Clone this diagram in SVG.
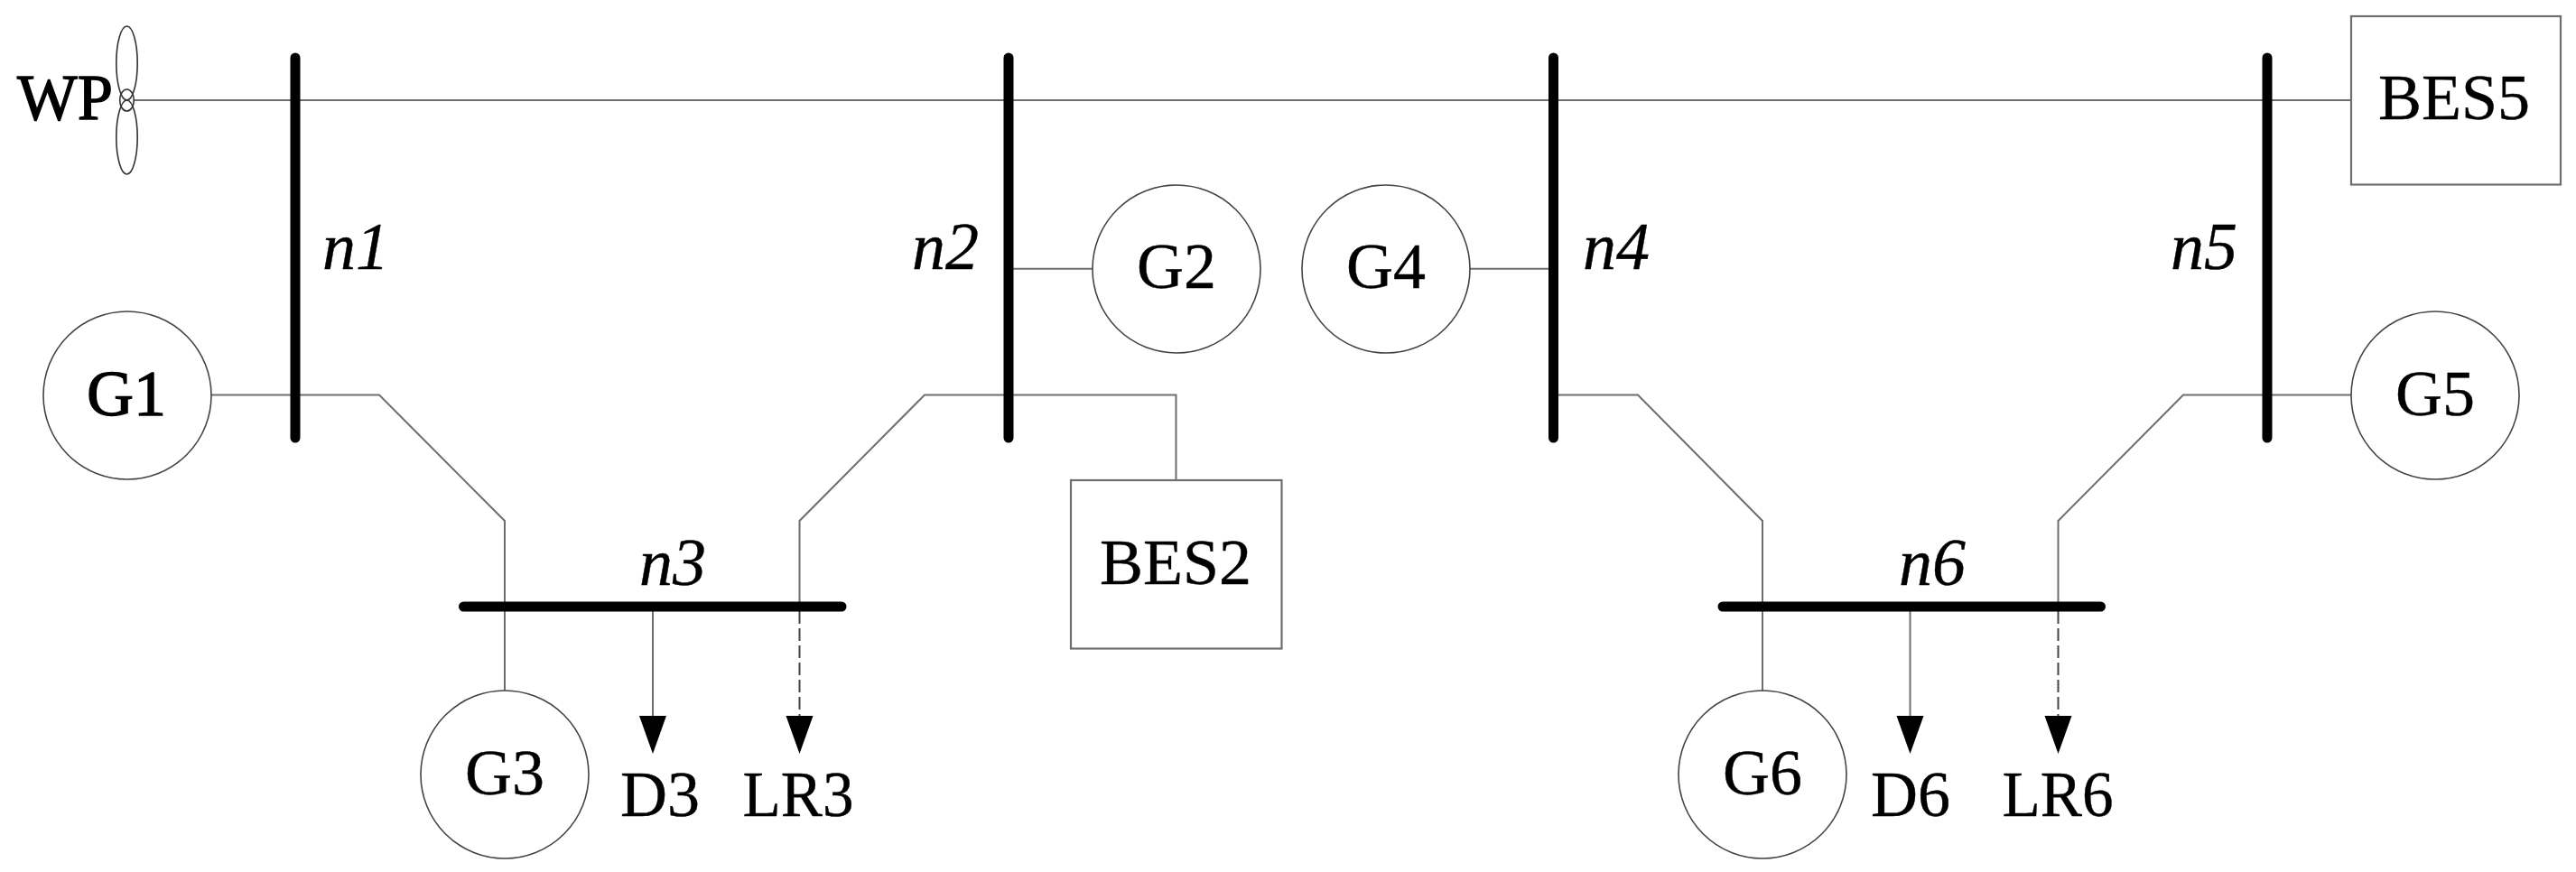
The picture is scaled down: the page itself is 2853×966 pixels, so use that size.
<svg xmlns="http://www.w3.org/2000/svg" width="2853" height="966" viewBox="0 0 2853 966">
<style>
.l{fill:none;stroke:#6e6e6e;stroke-width:2}
.d{fill:none;stroke:#444;stroke-width:2;stroke-dasharray:14 5}
.b{fill:none;stroke:#000;stroke-width:11;stroke-linecap:round}
.n{fill:#fff;stroke:#444;stroke-width:1.6}
.r{fill:#fff;stroke:#6e6e6e;stroke-width:2.2}
.f{fill:none;stroke:#333;stroke-width:1.6}
text{font-family:"Liberation Serif","Times New Roman",serif;font-size:72px;fill:#000;stroke:#000;stroke-width:.4;text-anchor:middle}
.i{font-style:italic;font-size:74px}
.h{stroke-width:1.3}
</style>
<rect width="2853" height="966" fill="#fff"/>
<g id="connectors">
<path class="l" d="M148 111H2604"/>
<path class="l" d="M234 437.500H420L559 577V765"/>
<path class="l" d="M885.500 672V577L1024 437.500H1302.500V532"/>
<path class="l" d="M1117 297.800H1210.500"/>
<path class="l" d="M1627.500 297.800H1720"/>
<path class="l" d="M1720 437.500H1814L1952 577V765"/>
<path class="l" d="M2279.500 672V577L2418 437.500H2604"/>
<path class="l" d="M723 672V793"/><path d="M708 793H738L723 835Z"/>
<path class="d" d="M885.500 677V793"/><path d="M870.500 793H900.500L885.500 835Z"/>
<path class="l" d="M2115.500 672V793"/><path d="M2100.500 793H2130.500L2115.500 835Z"/>
<path class="d" d="M2279.500 677V793"/><path d="M2264.500 793H2294.500L2279.500 835Z"/>
</g>
<g id="bus-n1"><path class="b" d="M327 64V485"/><text class="i" x="394" y="297.500">n1</text></g>
<g id="bus-n2"><path class="b" d="M1117 64V485"/><text class="i" x="1047" y="297.500">n2</text></g>
<g id="bus-n3"><path class="b" d="M513.500 672H932"/><text class="i" x="745" y="648">n3</text></g>
<g id="bus-n4"><path class="b" d="M1720.500 64V485"/><text class="i" x="1790" y="297.500">n4</text></g>
<g id="bus-n5"><path class="b" d="M2511 64V485"/><text class="i" x="2441" y="297.500">n5</text></g>
<g id="bus-n6"><path class="b" d="M1908 672H2326.500"/><text class="i" x="2140" y="648">n6</text></g>
<g id="WP"><ellipse class="f" cx="140.500" cy="70" rx="11.700" ry="41"/><ellipse class="f" cx="140.500" cy="152" rx="11.700" ry="41"/><ellipse class="f" cx="140.500" cy="111" rx="7.800" ry="12"/><text class="h" x="72" y="132" textLength="106" lengthAdjust="spacingAndGlyphs">WP</text></g>
<g id="G1"><circle class="n" cx="141" cy="438" r="93"/><text class="h" x="140" y="460">G1</text></g>
<g id="G2"><circle class="n" cx="1303" cy="298" r="93"/><text x="1303" y="319">G2</text></g>
<g id="G3"><circle class="n" cx="559" cy="858" r="93"/><text x="559" y="880">G3</text></g>
<g id="G4"><circle class="n" cx="1535" cy="298" r="93"/><text x="1535" y="319">G4</text></g>
<g id="G5"><circle class="n" cx="2697" cy="438" r="93"/><text x="2697" y="460">G5</text></g>
<g id="G6"><circle class="n" cx="1952" cy="858" r="93"/><text x="1952" y="880">G6</text></g>
<g id="BES2"><rect class="r" x="1186" y="532" width="233.500" height="186.500"/><text x="1302" y="647">BES2</text></g>
<g id="BES5"><rect class="r" x="2604" y="18" width="232" height="186.500"/><text x="2718" y="132">BES5</text></g>
<g id="D3"><text x="731" y="904">D3</text></g>
<g id="LR3"><text x="884" y="904" textLength="123" lengthAdjust="spacingAndGlyphs">LR3</text></g>
<g id="D6"><text x="2116" y="904">D6</text></g>
<g id="LR6"><text x="2279" y="904" textLength="123" lengthAdjust="spacingAndGlyphs">LR6</text></g>
</svg>
